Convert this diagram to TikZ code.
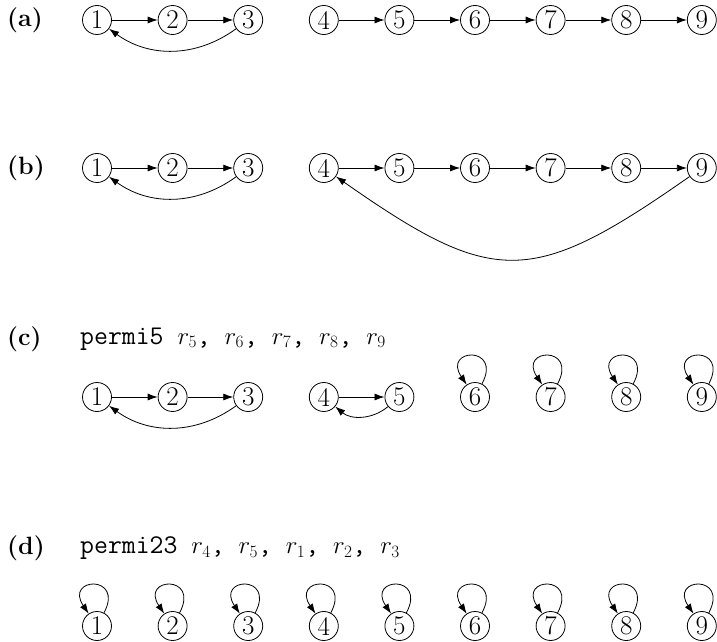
\documentclass[tikz,border=0pt]{standalone}
\usetikzlibrary{arrows.meta}
\begin{document}
\begin{tikzpicture}[x=1pt,y=1pt,
  vtx/.style={draw, circle, minimum size=29pt, inner sep=0pt, line width=0.8pt, font=\fontsize{27}{30}\selectfont},
  arr/.style={-{Latex[length=10pt,width=7pt]}, line width=0.8pt},
  lbl/.style={font=\fontsize{25}{30}\selectfont\bfseries, anchor=west, inner sep=0pt},
  capt/.style={font=\fontsize{27}{32}\selectfont, anchor=west, inner sep=0pt},
  selfloop/.style={arr, loop, out=62, in=124, looseness=1, min distance=44pt}]
\useasboundingbox (0,0) rectangle (717,641);
% labels
\node[lbl] (la) at (7,621) {(a)};
\node[lbl] (lb) at (7,473) {(b)};
\node[lbl] (lc) at (7,302) {(c)};
\node[lbl] (ld) at (7,93) {(d)};
\node[capt] (cc) at (80,302) {\texttt{permi5 }$r_5$\texttt{, }$r_6$\texttt{, }$r_7$\texttt{, }$r_8$\texttt{, }$r_9$};
\node[capt] (cd) at (80,93) {\texttt{permi23 }$r_4$\texttt{, }$r_5$\texttt{, }$r_1$\texttt{, }$r_2$\texttt{, }$r_3$};
% nodes
\foreach \i in {1,...,9}{
  \pgfmathsetmacro{\xx}{97+75.6*(\i-1)}
  \node[vtx] (a\i) at (\xx,621) {\i};
  \node[vtx] (b\i) at (\xx,473) {\i};
  \node[vtx] (c\i) at (\xx,244) {\i};
  \node[vtx] (d\i) at (\xx,15) {\i};
}
% (a)
\draw[arr] (a1) -- (a2);
\draw[arr] (a2) -- (a3);
\draw[arr] (a3) to[bend left=36] (a1);
\foreach \i/\j in {4/5,5/6,6/7,7/8,8/9} \draw[arr] (a\i) -- (a\j);
% (b)
\draw[arr] (b1) -- (b2);
\draw[arr] (b2) -- (b3);
\draw[arr] (b3) to[bend left=36] (b1);
\foreach \i/\j in {4/5,5/6,6/7,7/8,8/9} \draw[arr] (b\i) -- (b\j);
\draw[arr] (b9) to[out=-145, in=-35, looseness=1.4] (b4);
% (c)
\draw[arr] (c1) -- (c2);
\draw[arr] (c2) -- (c3);
\draw[arr] (c3) to[bend left=36] (c1);
\draw[arr] (c4) -- (c5);
\draw[arr] (c5) to[bend left=40] (c4);
\foreach \i in {6,...,9} \path (c\i) edge[selfloop] (c\i);
% (d)
\foreach \i in {1,...,9} \path (d\i) edge[selfloop] (d\i);
\end{tikzpicture}
\end{document}
